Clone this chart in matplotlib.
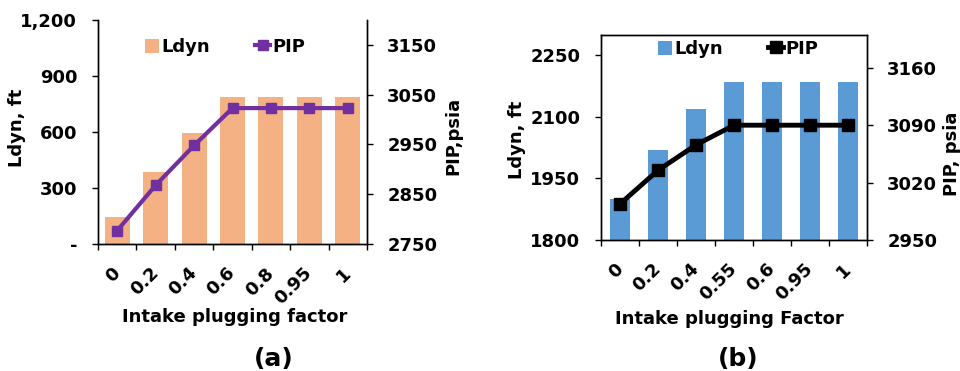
import matplotlib
matplotlib.use('Agg')
import matplotlib.pyplot as plt
from matplotlib.ticker import FixedLocator, FuncFormatter
import numpy as np

# data
factor_a = ['0', '0.2', '0.4', '0.6', '0.8', '0.95', '1']
ldyn_a = [145, 385, 595, 785, 785, 785, 785]
pip_a = [2777, 2868, 2948, 3023, 3023, 3023, 3023]

factor_b = ['0', '0.2', '0.4', '0.55', '0.6', '0.95', '1']
ldyn_b = [1900, 2020, 2120, 2185, 2185, 2185, 2185]
pip_b = [2994, 3035, 3066, 3090, 3090, 3090, 3090]

plt.rcParams['font.family'] = 'DejaVu Sans'
plt.rcParams['font.weight'] = 'bold'
plt.rcParams['font.size'] = 13

W, H = 960, 371
fig = plt.figure(figsize=(W / 100, H / 100), dpi=100)


def px_axes(l, t, r, b):
    return fig.add_axes([l / W, 1 - b / H, (r - l) / W, (b - t) / H])


def panel(box, cats, ldyn, pip, bar_color, line_color, bar_w, lw, ms,
          ylim1, yticks1, ylim2, yticks2, fmt1, top_spine, leg_xy):
    ax = px_axes(*box)
    x = np.arange(len(cats))
    bars = ax.bar(x, ldyn, width=bar_w, color=bar_color, zorder=2, label='Ldyn')
    ax.set_xlim(-0.5, len(cats) - 0.5)
    ax.set_ylim(*ylim1)
    ax.set_yticks(yticks1)
    ax.yaxis.set_major_formatter(FuncFormatter(fmt1))
    ax.set_xticks(x)
    ax.set_xticklabels(cats, rotation=45, ha='right', va='center',
                       rotation_mode='anchor')
    ax.xaxis.set_minor_locator(FixedLocator(np.arange(-0.5, len(cats), 1.0)))
    ax.tick_params(axis='x', which='major', length=0, pad=19)
    ax.tick_params(axis='x', which='minor', length=4.5, width=1, direction='out')
    ax.tick_params(axis='y', length=4, width=1, direction='out', pad=11)

    ax2 = ax.twinx()
    line, = ax2.plot(x, pip, color=line_color, lw=lw, marker='s', ms=ms,
                     zorder=3, label='PIP')
    ax2.set_ylim(*ylim2)
    ax2.set_yticks(yticks2)
    ax2.tick_params(axis='y', length=4.5, width=1, direction='out', pad=10)

    for a in (ax, ax2):
        for s in a.spines.values():
            s.set_color('black')
            s.set_linewidth(1)
        a.spines['top'].set_visible(top_spine)

    ax2.legend([bars, line], ['Ldyn', 'PIP'], loc='center', ncol=2,
               bbox_to_anchor=(leg_xy[0] / W, 1 - leg_xy[1] / H),
               bbox_transform=fig.transFigure, frameon=False,
               handlelength=0.8, handleheight=0.8, handletextpad=0.15,
               columnspacing=2.5, borderpad=0, fontsize=13)
    return ax, ax2


panel((98, 20, 367, 244), factor_a, ldyn_a, pip_a, '#F4B183', '#7030A0',
      0.65, 3, 7.5, (0, 1200), [0, 300, 600, 900, 1200],
      (2750, 3200), [2750, 2850, 2950, 3050, 3150],
      lambda v, p: '-' if v == 0 else '{:,.0f}'.format(v), False, (225, 47))

panel((601, 35, 867, 240), factor_b, ldyn_b, pip_b, '#5B9BD5', 'black',
      0.545, 3.5, 8, (1800, 2300), [1800, 1950, 2100, 2250],
      (2950, 3200), [2950, 3020, 3090, 3160],
      lambda v, p: '{:.0f}'.format(v), True, (738, 49))

# axis titles
fig.text(17 / W, 1 - 128 / H, 'Ldyn, ft', rotation=90, ha='center', va='center')
fig.text(453 / W, 1 - 136 / H, 'PIP,psia', rotation=90, ha='center', va='center')
fig.text(517 / W, 1 - 140 / H, 'Ldyn, ft', rotation=90, ha='center', va='center')
fig.text(952 / W, 1 - 154 / H, 'PIP, psia', rotation=90, ha='center', va='center')
fig.text(235 / W, 1 - 322 / H, 'Intake plugging factor', ha='center', va='baseline')
fig.text(729 / W, 1 - 324 / H, 'Intake plugging Factor', ha='center', va='baseline')
fig.text(274 / W, 1 - 366 / H, '(a)', ha='center', va='baseline', fontsize=18)
fig.text(738 / W, 1 - 366 / H, '(b)', ha='center', va='baseline', fontsize=18)

fig.savefig('out.png', dpi=100)
